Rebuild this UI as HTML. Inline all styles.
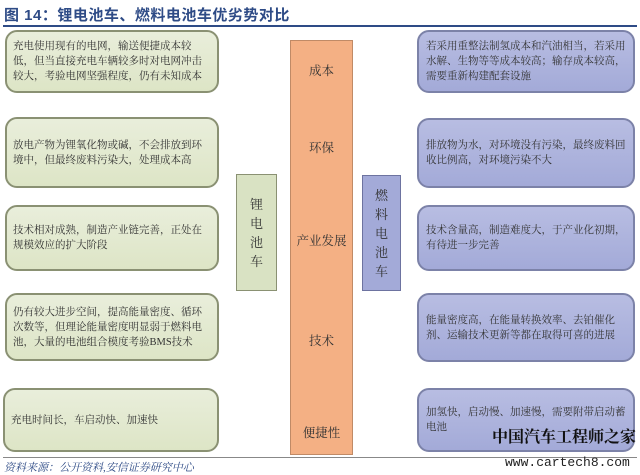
<!DOCTYPE html>
<html><head><meta charset="utf-8"><style>
body{margin:0;width:640px;height:474px;background:#fff;position:relative;overflow:hidden;font-family:"Liberation Serif","Noto Serif CJK SC",serif;}
.a{position:absolute;box-sizing:border-box;}
.t{position:absolute;left:4px;top:4px;font-size:15px;font-weight:bold;color:#2e4b86;font-family:"Liberation Sans","Noto Sans CJK SC",sans-serif;letter-spacing:0.5px}
.g{background:linear-gradient(#e9eedb,#dde5c6);border:2px solid #8a9173;border-radius:12px;font-size:10.5px;line-height:15px;color:#333;padding:0 6px 0 6px;display:flex;align-items:center}
.b{background:linear-gradient(#b8bde2,#a3aad8);border:2px solid #7c82a8;border-radius:12px;font-size:10.5px;line-height:15px;color:#333;padding:0 6px 0 7px;display:flex;align-items:center}
.o{background:#f4b084;border:1px solid #c08a66;}
.lbl{position:absolute;width:100%;text-align:center;font-size:12.5px;color:#333;}
.v{font-size:13px;line-height:19px;text-align:center;color:#333;display:flex;align-items:center;justify-content:center}
</style></head><body>
<div class="t">图 14：锂电池车、燃料电池车优劣势对比</div>
<div class="a" style="left:3px;top:25px;width:634px;height:2px;background:#2e4b86"></div>

<div class="a g" style="left:5px;top:30px;width:214px;height:63px">充电使用现有的电网，输送便捷成本较低，但当直接充电车辆较多时对电网冲击较大，考验电网坚强程度，仍有未知成本</div>
<div class="a g" style="left:5px;top:117px;width:214px;height:71px">放电产物为锂氧化物或碱，不会排放到环境中，但最终废料污染大，处理成本高</div>
<div class="a g" style="left:5px;top:205px;width:214px;height:66px">技术相对成熟，制造产业链完善，正处在规模效应的扩大阶段</div>
<div class="a g" style="left:5px;top:293px;width:214px;height:68px">仍有较大进步空间，提高能量密度、循环次数等，但理论能量密度明显弱于燃料电池，大量的电池组合模度考验BMS技术</div>
<div class="a g" style="left:3px;top:388px;width:216px;height:64px">充电时间长，车启动快、加速快</div>

<div class="a b" style="left:417px;top:30px;width:218px;height:63px">若采用重整法制氢成本和汽油相当，若采用水解、生物等等成本较高；输存成本较高，需要重新构建配套设施</div>
<div class="a b" style="left:417px;top:118px;width:218px;height:70px">排放物为水，对环境没有污染，最终废料回收比例高，对环境污染不大</div>
<div class="a b" style="left:417px;top:205px;width:218px;height:66px">技术含量高，制造难度大，于产业化初期，有待进一步完善</div>
<div class="a b" style="left:417px;top:293px;width:218px;height:69px">能量密度高，在能量转换效率、去铂催化剂、运输技术更新等都在取得可喜的进展</div>
<div class="a b" style="left:417px;top:388px;width:218px;height:64px">加氢快，启动慢、加速慢，需要附带启动蓄电池</div>

<div class="a o" style="left:290px;top:40px;width:63px;height:415px">
<div class="lbl" style="top:20px">成本</div>
<div class="lbl" style="top:97px">环保</div>
<div class="lbl" style="top:190px">产业发展</div>
<div class="lbl" style="top:290px">技术</div>
<div class="lbl" style="top:382px">便捷性</div>
</div>
<div class="a v" style="left:236px;top:174px;width:41px;height:117px;background:#d9e2c3;border:1px solid #8a9173">锂<br>电<br>池<br>车</div>
<div class="a v" style="left:362px;top:175px;width:39px;height:116px;background:#a3aad8;border:1px solid #6d73a0">燃<br>料<br>电<br>池<br>车</div>

<div class="a" style="left:3px;top:457px;width:634px;height:1px;background:#888"></div>
<div class="a" style="left:4px;top:459px;font-size:11px;color:#2e4b86;font-style:italic">资料来源：公开资料,安信证券研究中心</div>
<div class="a" style="left:492px;top:424px;font-size:16px;color:#111;font-weight:bold">中国汽车工程师之家</div>
<div class="a" style="left:505px;top:455px;font-size:13px;color:#222;font-family:'Liberation Mono',monospace">www.cartech8.com</div>
</body></html>
